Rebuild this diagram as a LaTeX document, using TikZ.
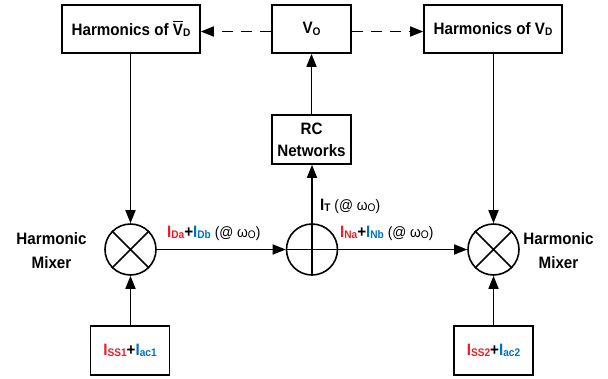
\documentclass[tikz,border=0pt]{standalone}
\usepackage{fontspec}
\setmainfont{Liberation Sans}[FakeStretch=0.92]
\usetikzlibrary{arrows.meta}
\definecolor{cred}{RGB}{237,28,36}
\definecolor{cblue}{RGB}{0,112,192}
% subscript set slightly below the baseline
\newcommand\sub[1]{\raisebox{-1.5pt}{\fontsize{11}{11}\selectfont #1}}
% thick bar over a letter
\newcommand\overbar[1]{\setbox0\hbox{#1}\rlap{\rule[\dimexpr\ht0+1.3pt\relax]{\wd0}{1.1pt}}\box0}
% frequency tag after a current
\newcommand\freq{{\fontsize{15}{16}\selectfont\mdseries\ (@ ω\sub{O})}}
\tikzset{
  blk/.style={draw, line width=1.6pt, inner sep=0pt, align=center,
    font=\fontsize{16.5}{22}\selectfont\bfseries},
  mixer/.style={draw, circle, line width=1.6pt, minimum size=51pt, inner sep=0pt},
  conn/.style={line width=1.6pt, -{Triangle[length=13pt,width=10pt]}},
  dconn/.style={conn, dash pattern=on 11pt off 8pt},
  plain/.style={line width=1.6pt},
  lbl/.style={anchor=base west, inner sep=0pt, font=\fontsize{16.5}{18}\selectfont\bfseries},
  side/.style={align=center, inner sep=0pt, font=\fontsize{16.5}{24}\selectfont\bfseries}
}
\begin{document}
\begin{tikzpicture}[x=1pt,y=-1pt]
\useasboundingbox (0,0) rectangle (608,378);

% top row
\node[blk, minimum width=138pt, minimum height=48pt] (hl) at (131,29)
  {Harmonics of \overbar{V}\sub{D}};
\node[blk, minimum width=79pt, minimum height=48pt] (vo) at (311.5,29) {V\sub{O}};
\node[blk, minimum width=138pt, minimum height=48pt] (hr) at (493,29)
  {Harmonics of V\sub{D}};

% RC network
\node[blk, minimum width=79pt, minimum height=49pt] (rc) at (311.5,139.5) {RC\\Networks};

% mixers and summing junction
\node[mixer] (ml) at (130.5,249.5) {};
\node[mixer] (sm) at (312,249.5) {};
\node[mixer] (mr) at (493.5,249.5) {};
\draw[plain] (ml.north east) -- (ml.south west) (ml.north west) -- (ml.south east);
\draw[plain] (mr.north east) -- (mr.south west) (mr.north west) -- (mr.south east);
\draw[plain] (sm.south) -- (sm.north) (sm.west) -- (sm.east);

\node[side] (tl) at (51.5,250.5) {Harmonic\\Mixer};
\node[side] (tr) at (558.5,250.5) {Harmonic\\Mixer};

% bias sources
\node[blk, minimum width=79pt, minimum height=49pt] (bl) at (130,350.5)
  {\textcolor{cred}{I\sub{SS1}}+\textcolor{cblue}{I\sub{ac1}}};
\node[blk, minimum width=79pt, minimum height=49pt] (br) at (493.5,350.5)
  {\textcolor{cred}{I\sub{SS2}}+\textcolor{cblue}{I\sub{ac2}}};

% connectors
\draw[dconn] ([yshift=-2.5pt]vo.west) -- ([yshift=-2.5pt]hl.east);
\draw[dconn] ([yshift=-2.5pt]vo.east) -- ([yshift=-2.5pt]hr.west);
\draw[conn] (hl.south -| ml.north) -- (ml.north);
\draw[conn] (hr.south -| mr.north) -- (mr.north);
\draw[conn] (bl.north -| ml.south) -- (ml.south);
\draw[conn] (br.north -| mr.south) -- (mr.south);
\draw[conn] (ml.east) -- (sm.west);
\draw[conn] (sm.east) -- (mr.west);
\draw[conn] (sm.north) -- (rc.south -| sm.north);
\draw[conn] (rc.north) -- (vo.south);

% signal labels
\node[lbl] (la) at (167,237)
  {\textcolor{cred}{I\sub{Da}}+\textcolor{cblue}{I\sub{Db}}\freq};
\node[lbl] (lt) at (320,210) {I\sub{T}\freq};
\node[lbl] (lb) at (340,237)
  {\textcolor{cred}{I\sub{Na}}+\textcolor{cblue}{I\sub{Nb}}\freq};
\end{tikzpicture}
\end{document}
